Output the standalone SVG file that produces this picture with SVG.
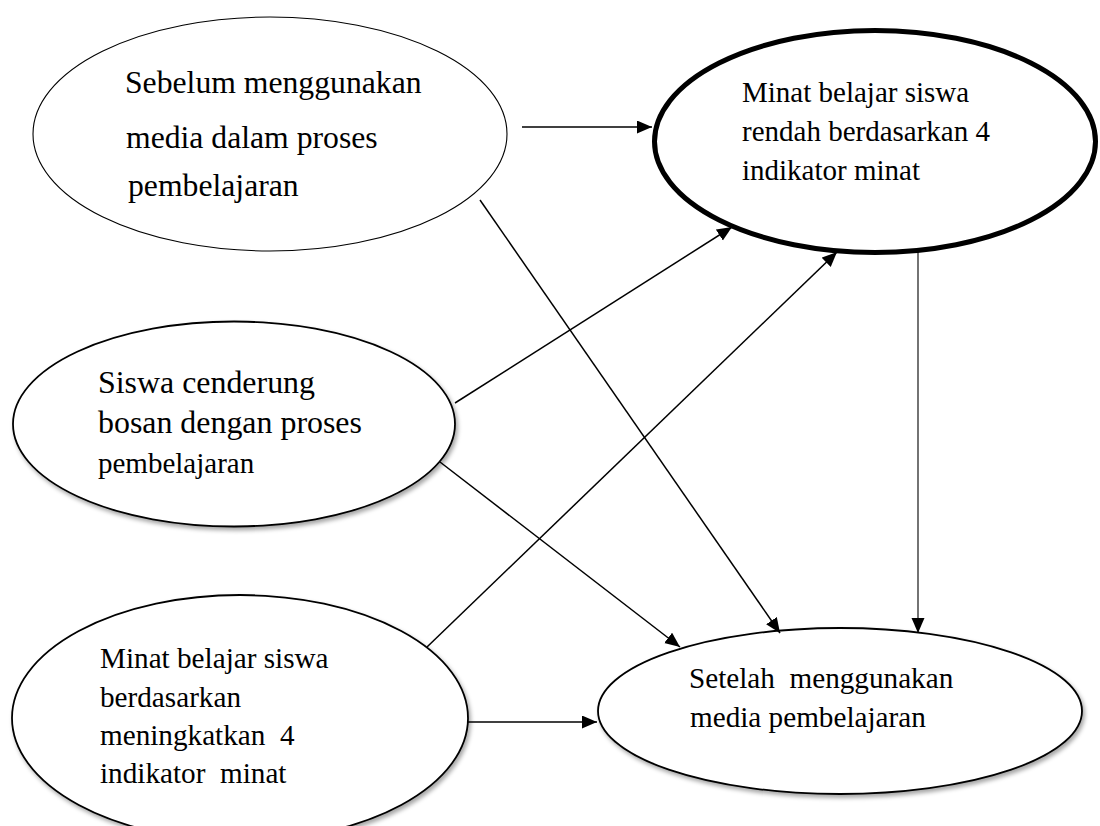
<svg xmlns="http://www.w3.org/2000/svg" width="1100" height="826" viewBox="0 0 1100 826">
<defs>
<style>
.t{font-family:"Liberation Serif","Times New Roman",serif;fill:#000}
.node{fill:#fff;stroke:#000}
.con line{stroke:#000;stroke-width:1.5;fill:none}
</style>
<filter id="sh" x="-10%" y="-10%" width="125%" height="130%">
<feDropShadow dx="2" dy="3" stdDeviation="2" flood-color="#000" flood-opacity="0.35"/>
</filter>
<marker id="ah" markerUnits="userSpaceOnUse" markerWidth="16" markerHeight="14" refX="15" refY="6.5" orient="auto">
<path d="M0,0 L15,6.5 L0,13 z" fill="#000"/>
</marker>
</defs>
<rect width="1100" height="826" fill="#fff"/>

<g id="n1">
<ellipse class="node" cx="270" cy="134" rx="237" ry="117" stroke-width="1.1"/>
<text class="t" font-size="31.7" x="125" y="93">Sebelum menggunakan</text>
<text class="t" font-size="31.7" x="126" y="148">media dalam proses</text>
<text class="t" font-size="31.7" x="128" y="196">pembelajaran</text>
</g>

<g id="n2">
<ellipse class="node" cx="875" cy="141.5" rx="220.5" ry="111" stroke-width="5"/>
<text class="t" font-size="29" x="742" y="102">Minat belajar siswa</text>
<text class="t" font-size="29" x="742" y="141">rendah berdasarkan 4</text>
<text class="t" font-size="29" x="742" y="180">indikator minat</text>
</g>

<g id="n3">
<ellipse class="node" cx="234" cy="424" rx="221" ry="102.5" stroke-width="1.8" filter="url(#sh)"/>
<text class="t" font-size="31.9" x="98" y="393">Siswa cenderung</text>
<text class="t" font-size="31.9" x="98" y="433">bosan dengan proses</text>
<text class="t" font-size="29" x="98" y="473">pembelajaran</text>
</g>

<g id="n4">
<ellipse class="node" cx="240" cy="718" rx="228" ry="123" stroke-width="1.8" filter="url(#sh)"/>
<text class="t" font-size="29.2" x="100" y="668">Minat belajar siswa</text>
<text class="t" font-size="29.2" x="100" y="707">berdasarkan</text>
<text class="t" font-size="29.2" x="100" y="745" xml:space="preserve">meningkatkan  4</text>
<text class="t" font-size="29.2" x="100" y="783" xml:space="preserve">indikator  minat</text>
</g>

<g id="n5">
<ellipse class="node" cx="840" cy="711" rx="242" ry="83" stroke-width="1.8" filter="url(#sh)"/>
<text class="t" font-size="29.2" x="689" y="688" xml:space="preserve">Setelah  menggunakan</text>
<text class="t" font-size="29.2" x="690" y="727">media pembelajaran</text>
</g>

<g id="connectors" class="con">
<line x1="522" y1="127" x2="652" y2="127" marker-end="url(#ah)"/>
<line x1="480" y1="200" x2="780" y2="633" marker-end="url(#ah)"/>
<line x1="455" y1="403" x2="732" y2="227" marker-end="url(#ah)"/>
<line x1="427" y1="647" x2="837" y2="252" marker-end="url(#ah)"/>
<line x1="440" y1="462" x2="680" y2="647" marker-end="url(#ah)"/>
<line x1="918" y1="252" x2="918" y2="633" style="stroke-width:1.1" marker-end="url(#ah)"/>
<line x1="467" y1="722" x2="597" y2="722" marker-end="url(#ah)"/>
</g>
</svg>
